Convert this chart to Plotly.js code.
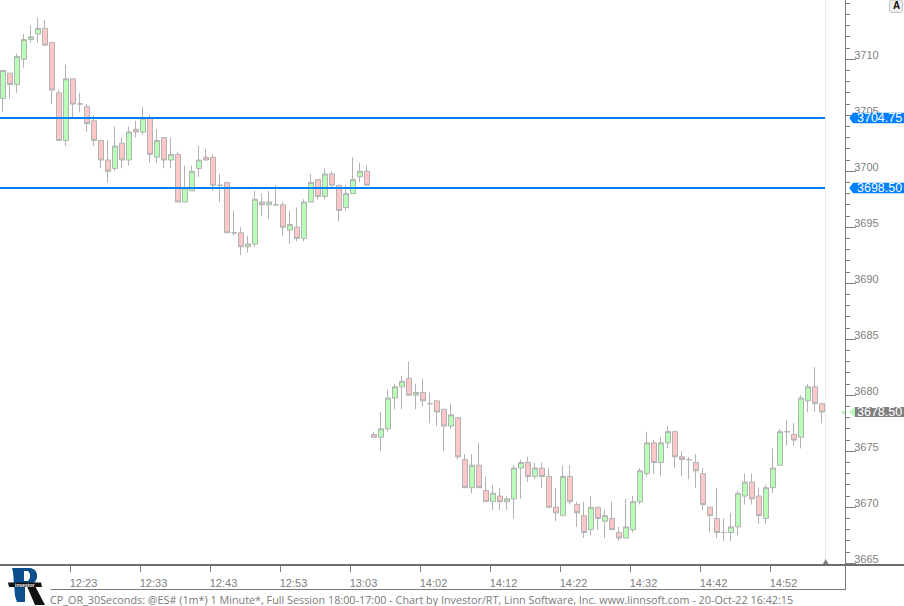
<!DOCTYPE html>
<html>
<head>
<meta charset="utf-8">
<script src="https://cdn.plot.ly/plotly-3.0.1.min.js"></script>
<style>html,body{margin:0;padding:0;background:#fff}#chart{width:904px;height:606px}</style>
</head>
<body>
<div id="chart"></div>
<script>
const opens = [3706.5,3708.75,3707.75,3710,3711.75,3712.25,3712.75,3711.5,3707,3702.75,3708.25,3706,3705.75,3704.5,3702.75,3701,3700.25,3702.5,3701,3703.75,3703.5,3704.75,3701.25,3703,3701,3701.5,3697.25,3698.25,3700.25,3701.25,3701.25,3698.75,3699,3694.5,3694.5,3693.25,3693.5,3697.25,3697,3697,3697,3694.75,3695,3694,3697.25,3699.25,3697.75,3699.75,3698.75,3696.75,3698,3699.5,3700,3676.5,3676.25,3677,3679.75,3680.75,3681.5,3680,3680.25,3679.25,3679.5,3678.75,3677.25,3678,3674.25,3671.75,3673.75,3671.5,3670.5,3671,3670.5,3670.75,3673.5,3674,3672.75,3673.5,3672.75,3670,3669.25,3672.75,3670.25,3669.25,3668,3670,3668.75,3669,3667.75,3667.25,3668,3670.5,3673,3675.75,3674,3675.75,3676.75,3674.5,3674.25,3674,3673,3670,3669,3667.75,3667.75,3668.25,3671,3672.25,3671,3669,3671.75,3673.75,3676.75,3676.5,3676.25,3679.5,3680.75,3679.25];
const highs = [3709,3708.75,3710.5,3712.25,3713,3713.75,3713.5,3711.5,3707.25,3709.5,3708.25,3707,3706,3705,3702.75,3702.75,3704,3703,3704,3704.5,3705.75,3705,3703.75,3703,3703,3701.75,3700.5,3700.5,3702.25,3702,3701.5,3699.75,3699,3696.5,3695,3694.25,3698.25,3698,3698.25,3698.75,3697.25,3696.5,3696.75,3697.5,3699.75,3699.25,3700.25,3700,3698.75,3698.75,3701.25,3700.75,3700.5,3676.75,3678.5,3680.5,3681,3681.75,3683,3681,3681.5,3680.25,3679.5,3678.75,3679.25,3678,3674.75,3674.75,3675.75,3672.75,3672,3671.75,3671,3673.75,3674.25,3674.5,3674,3674,3673.5,3671.75,3673.75,3673.75,3670.5,3670.5,3671,3670,3669.75,3670.5,3668.25,3670.75,3671,3673.5,3676.75,3676,3676.25,3677.25,3676.75,3675,3674.5,3674.75,3673.5,3670,3671.75,3669,3669.5,3671.5,3673,3673,3671.75,3672,3675.25,3677,3677.75,3677.5,3680,3681,3682.5,3679.25];
const lows = [3705.25,3706.5,3707,3709.25,3711.5,3711.5,3711.25,3706,3702.75,3702.25,3704.75,3705.25,3703.5,3702.25,3700.25,3699,3700,3700.25,3700.5,3703,3703.25,3700.75,3700.75,3700.25,3700.25,3697.25,3697.25,3698.25,3699.5,3701,3698.25,3697.25,3694.5,3694.25,3692.5,3692.75,3693.25,3696,3695.75,3697,3694.25,3693.5,3693.75,3693.75,3697.25,3697.5,3697.5,3698.5,3695.5,3696.5,3698,3699,3698.75,3676.25,3675,3676.75,3678.75,3678.75,3680,3678.75,3679,3677.5,3677.25,3675,3677,3674.25,3671.75,3671.25,3671.75,3670.5,3669.75,3669.75,3669.75,3669,3670.75,3672.25,3672.5,3671.75,3670,3668.75,3669.25,3670.25,3668.25,3667.25,3667.5,3668,3667.25,3668,3667,3667.25,3667.75,3670.25,3672.75,3673,3672.75,3675.25,3673.5,3672.75,3672.5,3671.75,3669.75,3667.75,3667.25,3667,3667,3667.5,3670.25,3670.25,3668.5,3668.5,3671.25,3673.75,3675.5,3675.5,3675.25,3678.5,3678.5,3677.5];
const closes = [3709,3707.75,3710.25,3711.75,3712,3712.75,3711.25,3707.25,3702.75,3708.25,3706,3706,3704.25,3702.75,3701,3700,3702.25,3701,3703.5,3703.5,3704.75,3701.5,3702.75,3701,3701.5,3697.25,3698.5,3700,3701,3701,3698.75,3698.75,3694.5,3694.5,3693.25,3693.5,3697.5,3697,3697.25,3697,3695,3695.25,3694,3697.25,3699,3697.75,3699.75,3698.75,3696.5,3698,3699.25,3700,3698.75,3676.25,3677,3679.75,3680.75,3681.25,3680,3680.25,3679.5,3679.25,3678.5,3677.25,3678.25,3674.5,3671.75,3673.75,3671.75,3670.5,3671.25,3670.5,3670.75,3673.5,3674,3672.75,3673.5,3672.75,3670,3669.5,3672.75,3670.5,3669.5,3667.75,3670,3669,3669.25,3668,3667.25,3668.25,3670.5,3673.25,3675.75,3674,3675.75,3676.75,3674.5,3674.25,3674.25,3673.25,3670.25,3669.25,3667.75,3667.75,3668.25,3671.25,3672.25,3670.75,3669.25,3671.75,3673.5,3676.75,3676.75,3676,3679.75,3680.75,3679.25,3678.5];
const barIndex = opens.map((_, i) => i);

const timeLabels = ['12:23','12:33','12:43','12:53','13:03','14:02','14:12','14:22','14:32','14:42','14:52'];
const timeTicks = [9.643,19.643,29.643,39.643,49.643,59.643,69.643,79.643,89.643,99.643,109.643];
const priceTicks = [3665,3670,3675,3680,3685,3690,3695,3700,3705,3710];
const priceLabels = ['3665','3670','3675','3680','3685','3690','3695','3700','3705','3710'];
const drawnLevels = [3704.75,3698.5];
const lastPrice = 3678.5;
const footer = 'CP_OR_30Seconds: @ES# (1m*) 1 Minute*, Full Session 18:00-17:00 - Chart by Investor/RT, Linn Software, Inc. www.linnsoft.com - 20-Oct-22 16:42:15';

const W = 845, H = 565;
const xRange = [-3/7, (W-3)/7];
const yRange = [3664.845,3715.285];
const UI = '"Liberation Sans", Arial, sans-serif';
const px = x => x / W;
const py = y => 1 - y / H;
const pp = v => (v - yRange[0]) / (yRange[1] - yRange[0]);
const lineEndX = (826-3)/7;
const wickOffset = -0.5/7;

// Bodies and wicks are separate so each lands on whole screen pixels, as in the reference.
const bodyTop = opens.map((o,i) => Math.max(o, closes[i]));
const bodyBot = opens.map((o,i) => Math.min(o, closes[i]));
const wickX = [], wickY = [];
barIndex.forEach(i => {
  if (highs[i] > bodyTop[i]) { wickX.push(i+wickOffset,i+wickOffset,null); wickY.push(highs[i],bodyTop[i],null); }
  if (lows[i] < bodyBot[i]) { wickX.push(i+wickOffset,i+wickOffset,null); wickY.push(bodyBot[i],lows[i],null); }
});

function poly(pts){ return 'M' + pts.map(p => px(p[0]) + ',' + py(p[1])).join('L') + 'Z'; }
function priceFlag(v, color, left){
  const yc = H * (1 - pp(v));
  return {type:'path', xref:'paper', yref:'paper', fillcolor:color, line:{width:0}, layer:'above',
    path: poly([[849.3,yc],[left,yc-5.3],[904,yc-5.3],[904,yc+5.3],[left,yc+5.3]])};
}
function rule(x0,y0,x1,y1,color,width){
  return {type:'line', xref:'paper', yref:'paper', x0:px(x0), y0:py(y0), x1:px(x1), y1:py(y1), line:{color:color,width:width}, layer:'above'};
}
const yc = H * (1 - pp(lastPrice));

const shapes = [
  rule(825.5,0,825.5,H,'#ececec',1),
  rule(0,565,904,565,'#6e6e6e',2),
  rule(845.5,565,845.5,589.5,'#7a7a7a',1),
  rule(50.5,589.5,846,589.5,'#7a7a7a',1),
  {type:'path', xref:'paper', yref:'paper', fillcolor:'#808080', line:{width:0}, layer:'above', path:poly([[822.8,564],[825.7,559],[828.6,564]])},
  priceFlag(drawnLevels[0],'#0080ff',853),
  priceFlag(drawnLevels[1],'#0080ff',853),
  {type:'path', xref:'paper', yref:'paper', fillcolor:'#808080', line:{width:0}, layer:'above',
    path:poly([[855,yc-5],[904,yc-5],[904,yc+5],[855,yc+5]])},
  {type:'path', xref:'paper', yref:'paper', fillcolor:'#b8f5b8', line:{width:0}, layer:'above',
    path:poly([[849.3,yc],[855,yc-5],[855,yc+5]])},
  {type:'path', xref:'paper', yref:'paper', fillcolor:'#b8f5b8', line:{width:0}, layer:'above',
    path:poly([[841,yc-1],[845,yc-1],[845,yc+2.5],[843.5,yc+2.5]])},
  {type:'path', xref:'paper', yref:'paper', fillcolor:'#eeeeee', line:{color:'#c4c4c4',width:1}, layer:'above',
    path:poly([[891,0],[901,0],[902.5,1.5],[902.5,11],[901,12.5],[891,12.5],[889.5,11],[889.5,1.5]])},
  {type:'path', xref:'paper', yref:'paper', fillcolor:'#111111', line:{width:0}, layer:'above',
    path:poly([[26,584],[34,584],[45,605],[35,605]])},
  {type:'path', xref:'paper', yref:'paper', fillcolor:'#0b4f8f', line:{width:0}, layer:'above',
    path:poly([[12,568],[31,568],[35,570],[37,574],[37,578],[35,582],[31,584],[25,584],[25,602],[17,602],[15,596],[14,584],[13,572]])},
  {type:'path', xref:'paper', yref:'paper', fillcolor:'#ffffff', line:{width:0}, layer:'above',
    path:poly([[24,571],[28,571],[30,574],[30,578],[28,581],[24,581]])},
  {type:'path', xref:'paper', yref:'paper', fillcolor:'#111111', line:{width:0}, layer:'above',
    path:poly([[8,582.5],[41,582.5],[42,587],[9,587]])}
];

const annotations = [
  {xref:'paper',yref:'paper',x:px(854.5),y:pp(drawnLevels[0]),xanchor:'left',yanchor:'middle',text:drawnLevels[0].toFixed(2),showarrow:false,font:{family:UI,size:12.5,color:'#ffffff'}},
  {xref:'paper',yref:'paper',x:px(854.5),y:pp(drawnLevels[1]),xanchor:'left',yanchor:'middle',text:drawnLevels[1].toFixed(2),showarrow:false,font:{family:UI,size:12.5,color:'#ffffff'}},
  {xref:'paper',yref:'paper',x:px(854.5),y:pp(lastPrice),xanchor:'left',yanchor:'middle',text:lastPrice.toFixed(2),showarrow:false,font:{family:UI,size:12.5,color:'#ffffff'}},
  {xref:'paper',yref:'paper',x:px(48),y:py(599.5),xanchor:'left',yanchor:'middle',text:footer,showarrow:false,font:{family:'"Open Sans", sans-serif',size:10.8,color:'#7a7a7a'}},
  {xref:'paper',yref:'paper',x:px(896),y:py(6),xanchor:'center',yanchor:'middle',text:'<b>A</b>',showarrow:false,font:{family:UI,size:10,color:'#111111'}},
  {xref:'paper',yref:'paper',x:px(25),y:py(584.8),xanchor:'center',yanchor:'middle',text:'<b>investor</b>',showarrow:false,font:{family:UI,size:5,color:'#ffffff'}}
];

const traces = [
  {type:'candlestick', x:barIndex, open:opens, high:bodyTop, low:bodyBot, close:closes,
   whiskerwidth:0,
   increasing:{line:{color:'#b2b2b2',width:1}, fillcolor:'#b8ffb8'},
   decreasing:{line:{color:'#b2b2b2',width:1}, fillcolor:'#ffc8c8'},
   hoverinfo:'none', showlegend:false},
  {type:'scatter', mode:'lines', x:wickX, y:wickY, connectgaps:false, line:{color:'#b2b2b2',width:1}, hoverinfo:'none', showlegend:false},
  {type:'scatter', mode:'lines', x:[xRange[0],lineEndX], y:[drawnLevels[0],drawnLevels[0]], line:{color:'#0080ff',width:2}, hoverinfo:'none', showlegend:false},
  {type:'scatter', mode:'lines', x:[xRange[0],lineEndX], y:[drawnLevels[1],drawnLevels[1]], line:{color:'#0080ff',width:2}, hoverinfo:'none', showlegend:false}
];

const layout = {
  width:904, height:606,
  margin:{l:0, r:904-W, t:0, b:606-H, pad:0},
  paper_bgcolor:'#ffffff', plot_bgcolor:'#ffffff',
  showlegend:false,
  boxgap:0.2857, boxgroupgap:0,
  font:{family:UI, size:11, color:'#808080'},
  xaxis:{type:'linear', range:xRange, rangeslider:{visible:false}, showgrid:false, zeroline:false,
    showline:false, tickmode:'array', tickvals:timeTicks, ticktext:timeLabels, ticks:'outside', ticklen:6, tickwidth:1, tickcolor:'#7a7a7a',
    ticklabelshift:13, ticklabelstandoff:2, tickfont:{family:UI,size:11,color:'#808080'}},
  yaxis:{type:'linear', side:'right', range:yRange, showgrid:false, zeroline:false,
    showline:true, linecolor:'#808080', linewidth:1, tickmode:'array', tickvals:priceTicks, ticktext:priceLabels, ticks:'outside', ticklen:10, tickwidth:1, tickcolor:'#808080',
    ticklabelshift:-4, ticklabelstandoff:-4, tickfont:{family:UI,size:11,color:'#808080'},
    minor:{dtick:1, ticks:'outside', ticklen:4, tickwidth:1, tickcolor:'#808080', showgrid:false}},
  shapes:shapes, annotations:annotations
};
Plotly.newPlot('chart', traces, layout, {staticPlot:true, displayModeBar:false});
</script>
</body>
</html>
